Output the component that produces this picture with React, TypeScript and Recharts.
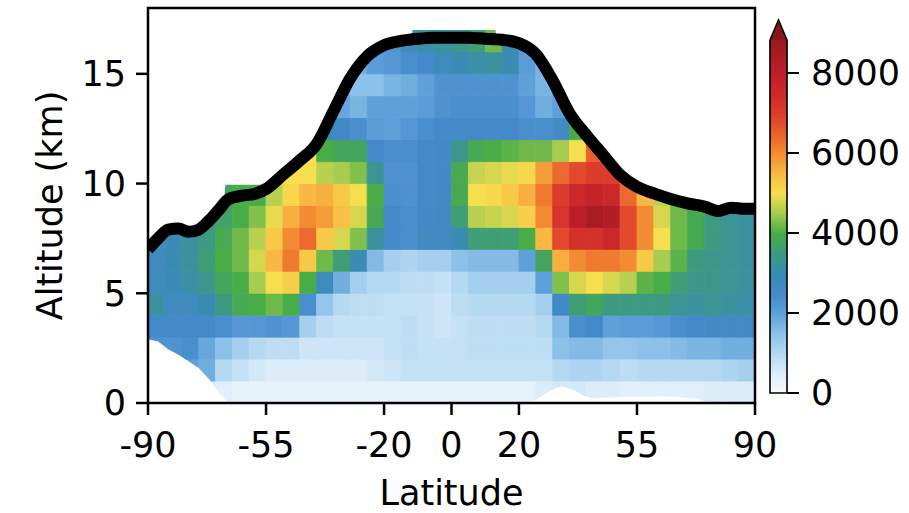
import React from 'react';
import { ComposedChart, XAxis, YAxis, ReferenceArea, Area, Line } from 'recharts';

const FONT = '"DejaVu Sans", Verdana, sans-serif';

// latitude bins (left edges, 5 degrees wide) and altitude bins (lower edges, 1 km)
const LAT_STEP = 5;
const ALT_STEP = 1;
const latEdges = [-90, -85, -80, -75, -70, -65, -60, -55, -50, -45, -40, -35, -30, -25, -20, -15, -10, -5,
  0, 5, 10, 15, 20, 25, 30, 35, 40, 45, 50, 55, 60, 65, 70, 75, 80, 85];
const altEdges = [0, 1, 2, 3, 4, 5, 6, 7, 8, 9, 10, 11, 12, 13, 14, 15, 16];

// field values, one array per altitude band (index = latitude bin)
const alt0 = [500, 500, 500, 600, 400, 300, 300, 300, 300, 300, 300, 300, 300, 300, 300, 300, 300, 300, 300, 300, 300, 300, 300, 500, 600, 600, 500, 500, 400, 400, 400, 400, 400, 500, 500, 500];
const alt1 = [1000, 1500, 2000, 1800, 1000, 800, 600, 500, 500, 500, 500, 500, 500, 600, 700, 800, 800, 800, 800, 800, 800, 800, 800, 800, 1000, 1100, 1100, 1000, 900, 1000, 1000, 1000, 1000, 1000, 1100, 1200];
const alt2 = [2300, 2300, 2400, 1900, 1500, 1200, 1000, 900, 900, 700, 700, 700, 700, 700, 800, 900, 800, 800, 800, 900, 900, 900, 900, 900, 1500, 1600, 1600, 1400, 1400, 1500, 1500, 1600, 1700, 1700, 1800, 1800];
const alt3 = [2500, 2500, 2500, 2500, 2400, 2200, 2200, 2300, 2200, 1200, 900, 800, 800, 800, 800, 900, 800, 700, 800, 900, 900, 900, 900, 1000, 1600, 2400, 2500, 2000, 2100, 2100, 2200, 2400, 2500, 2600, 2600, 2600];
const alt4 = [3200, 2700, 2800, 3000, 3500, 3900, 4000, 4200, 4000, 2400, 1400, 1000, 900, 900, 800, 800, 800, 700, 900, 1000, 1000, 1000, 1000, 1200, 2600, 3600, 3800, 3500, 3500, 3500, 3500, 3300, 3200, 3300, 3200, 3100];
const alt5 = [2800, 2900, 3100, 3400, 3800, 4000, 4500, 5000, 5200, 4000, 2800, 1800, 1200, 1000, 1000, 900, 900, 800, 1000, 1200, 1200, 1200, 1200, 2000, 4300, 4800, 5000, 4800, 4600, 4100, 4000, 3600, 3400, 3400, 3300, 3200];
const alt6 = [2700, 3000, 3200, 3600, 4000, 4200, 4800, 5500, 6200, 5300, 4200, 3600, 3000, 1600, 1200, 1100, 1200, 1200, 1500, 1600, 1600, 1600, 2000, 3800, 5600, 6000, 6200, 6200, 6000, 5300, 4500, 4100, 3500, 3400, 3300, 3200];
const alt7 = [2700, 2900, 3200, 3500, 3900, 4200, 4600, 5300, 6000, 6400, 5300, 4800, 4300, 3200, 2500, 2400, 2700, 2600, 3000, 3600, 3600, 3600, 4000, 5500, 6800, 7300, 7300, 7600, 6800, 6000, 5000, 4200, 3900, 3500, 3300, 3200];
const alt8 = [null, null, null, 3500, 3700, 4000, 4300, 4900, 5600, 6000, 5800, 5400, 4800, 3900, 2500, 2400, 2600, 2700, 3600, 4600, 4700, 4800, 5200, 6000, 7200, 8100, 8500, 8300, 6800, 6000, 4800, 4200, 3900, 3500, 3300, 3200];
const alt9 = [null, null, null, null, 3800, 4000, 4000, 4600, 5100, 5500, 5600, 5300, 5000, 4000, 2400, 2300, 2500, 2600, 3900, 5000, 5100, 5300, 5600, 6200, 7000, 7600, 7800, 7600, 6400, 5500, 4600, 4100, 3800, null, null, null];
const alt10 = [null, null, null, null, null, null, null, 4500, 5000, 5000, 4600, 4500, 4300, 3300, 2300, 2300, 2500, 2600, 3900, 4700, 4800, 4900, 5100, 5800, 6400, 6800, 7000, 7000, 6300, null, null, null, null, null, null, null];
const alt11 = [null, null, null, null, null, null, null, null, 5000, 5000, 4000, 3800, 3800, 2500, 2400, 2400, 2500, 2600, 3400, 3900, 4000, 4100, 4200, 4200, 4500, 5000, 6500, 6500, null, null, null, null, null, null, null, null];
const alt12 = [null, null, null, null, null, null, null, null, null, null, 3000, 2600, 2400, 2100, 2000, 2200, 2400, 2500, 2500, 2500, 2500, 2500, 2400, 2400, 2600, 4000, 6000, null, null, null, null, null, null, null, null, null];
const alt13 = [null, null, null, null, null, null, null, null, null, null, 2800, 1900, 1700, 2000, 2000, 2000, 2100, 2300, 2400, 2400, 2400, 2400, 2200, 1800, 2000, 3500, null, null, null, null, null, null, null, null, null, null];
const alt14 = [null, null, null, null, null, null, null, null, null, null, null, 1800, 1500, 1500, 1700, 1800, 2000, 2300, 2300, 2300, 2300, 2300, 2000, 1700, 2000, null, null, null, null, null, null, null, null, null, null, null];
const alt15 = [null, null, null, null, null, null, null, null, null, null, null, null, 1800, 2100, 2200, 2400, 2500, 2800, 3000, 3100, 3200, 3000, 2100, 1700, null, null, null, null, null, null, null, null, null, null, null, null];
const alt16 = [null, null, null, null, null, null, null, null, null, null, null, null, null, 2000, 2300, 2800, 3100, 3200, 3400, 3600, 4200, 3000, 2400, null, null, null, null, null, null, null, null, null, null, null, null, null];
const fieldRows = [alt0, alt1, alt2, alt3, alt4, alt5, alt6, alt7, alt8, alt9, alt10, alt11, alt12, alt13, alt14, alt15, alt16];

// tropopause height (black line)
const tropoLat = [-90, -87, -84, -81, -78, -75, -72, -69, -66, -62, -58, -55, -50, -45, -40, -35, -30, -25, -20, -15, -10, -5, 0, 5, 10, 15, 20, 25, 30, 35, 40, 45, 50, 55, 60, 65, 70, 75, 79, 83, 87, 90];
const tropoAlt = [7.0, 7.5, 7.9, 7.95, 7.8, 7.9, 8.3, 8.8, 9.3, 9.45, 9.55, 9.75, 10.4, 11.05, 11.8, 13.3, 14.8, 15.8, 16.3, 16.5, 16.6, 16.65, 16.65, 16.65, 16.6, 16.55, 16.4, 15.9, 14.7, 13.2, 12.2, 11.3, 10.4, 9.85, 9.55, 9.3, 9.1, 8.95, 8.75, 8.9, 8.85, 8.85];

// upper edge of valid data (white above)
const topLat = [-90, -87, -84, -81, -78, -75, -72, -69, -67.5, -67, -56, -55, -50, -45, -40, -35, -30, -25, -20, -15, -12, -11.5, 13, 13.5, 15, 20, 25, 30, 35, 40, 45, 50, 55, 60, 65, 70, 75, 79, 83, 87, 90];
const topAlt = [7.0, 7.5, 7.9, 7.95, 7.8, 7.9, 8.3, 8.8, 9.1, 9.95, 9.95, 9.75, 10.4, 11.05, 11.8, 13.3, 14.8, 15.8, 16.3, 16.5, 16.55, 17, 17, 16.55, 16.55, 16.4, 15.9, 14.7, 13.2, 12.2, 11.3, 10.4, 9.85, 9.55, 9.3, 9.1, 8.95, 8.75, 8.9, 8.85, 8.85];

// lower edge of valid data (surface, white below)
const surfLat = [-90, -87, -84, -81, -78, -75, -72, -70, -68, -66, 22, 25, 28, 31, 33, 36, 39, 42, 45, 55, 65, 72, 76, 80, 90];
const surfAlt = [2.9, 2.8, 2.45, 2.2, 1.9, 1.6, 1.1, 0.7, 0.3, 0, 0, 0.15, 0.45, 0.7, 0.75, 0.6, 0.35, 0.2, 0.25, 0.3, 0.3, 0.2, 0.05, 0, 0];

const xTicks = [-90, -55, -20, 0, 20, 55, 90];
const yTicks = [0, 5, 10, 15];
const cbTicks = [0, 2000, 4000, 6000, 8000];
const CB_MAX = 8825;
const CB_TIP = 9325;

const cmapStops: [number, string][] = [
  [0, '#f7fbff'], [500, '#dcedf9'], [1000, '#b6d9f2'], [1500, '#8cc1e9'], [2000, '#5ea1da'],
  [2500, '#4489ca'], [3000, '#3a8cb2'], [3500, '#3d9a80'], [4000, '#49ad47'], [4500, '#a8cc50'],
  [5000, '#f6df4e'], [5500, '#f9b843'], [6000, '#f38b32'], [6500, '#e9602d'], [7000, '#dc3c2b'],
  [7500, '#cd2a2b'], [8000, '#c01f2a'], [8825, '#9a1a20'],
];

function hexRgb(h: string) {
  return [parseInt(h.slice(1, 3), 16), parseInt(h.slice(3, 5), 16), parseInt(h.slice(5, 7), 16)];
}
function colorFor(v: number) {
  const s = cmapStops;
  if (v <= s[0][0]) return s[0][1];
  if (v >= s[s.length - 1][0]) return s[s.length - 1][1];
  for (let i = 0; i < s.length - 1; i++) {
    if (v >= s[i][0] && v <= s[i + 1][0]) {
      const t = (v - s[i][0]) / (s[i + 1][0] - s[i][0]);
      const a = hexRgb(s[i][1]);
      const b = hexRgb(s[i + 1][1]);
      const c = a.map((x, k) => Math.round(x + (b[k] - x) * t));
      return `rgb(${c[0]},${c[1]},${c[2]})`;
    }
  }
  return s[0][1];
}

const tropoData = tropoLat.map((lat, i) => ({ lat, alt: tropoAlt[i] }));
const topData = topLat.map((lat, i) => ({ lat, band: [topAlt[i], 18] }));
const surfData = surfLat.map((lat, i) => ({ lat, surf: surfAlt[i] }));

const YLabel = (props: any) => {
  const vb = props.viewBox || { x: 0, y: 8, width: 148, height: 395 };
  const x = vb.x + 62;
  const y = vb.y + vb.height / 2;
  return (
    <text x={x} y={y} transform={`rotate(-90 ${x} ${y})`} textAnchor="middle" fontSize={35} fontFamily={FONT} fill="#000">
      Altitude (km)
    </text>
  );
};
const XLabel = (props: any) => {
  const vb = props.viewBox || { x: 148, y: 403, width: 607, height: 110 };
  return (
    <text x={vb.x + vb.width / 2} y={vb.y + 102} textAnchor="middle" fontSize={35} fontFamily={FONT} fill="#000">
      Latitude
    </text>
  );
};

const TriShape = (p: any) => {
  const { x, y, width, height } = p;
  const pts = `${x},${y + height} ${x + width / 2},${y} ${x + width},${y + height}`;
  return (
    <g>
      <polygon points={pts} fill="#8a1519" stroke="none" />
      <polyline points={pts} fill="none" stroke="#000" strokeWidth={1.6} strokeLinejoin="miter" />
    </g>
  );
};
const BarOutline = (p: any) => {
  const { x, y, width, height } = p;
  return (
    <path d={`M${x},${y} L${x},${y + height} L${x + width},${y + height} L${x + width},${y}`} fill="none" stroke="#000" strokeWidth={1.6} />
  );
};

export default function App() {
  const cells: React.ReactNode[] = [];
  fieldRows.forEach((row, r) => {
    row.forEach((v, c) => {
      if (v == null) return;
      const col = colorFor(v);
      cells.push(
        <ReferenceArea
          key={`cell-${r}-${c}`}
          x1={latEdges[c]}
          x2={latEdges[c] + LAT_STEP}
          y1={altEdges[r]}
          y2={altEdges[r] + ALT_STEP}
          fill={col}
          fillOpacity={1}
          stroke={col}
          strokeWidth={0.8}
          ifOverflow="hidden"
        />
      );
    });
  });

  const slices: React.ReactNode[] = [];
  for (let v = 0; v < CB_MAX; v += 50) {
    const col = colorFor(v + 25);
    slices.push(
      <ReferenceArea key={`cb-${v}`} x1={0} x2={1} y1={v} y2={Math.min(v + 50, CB_MAX)} fill={col} fillOpacity={1} stroke={col} strokeWidth={0.6} />
    );
  }

  const tickStyle = { fill: '#000', fontSize: 35, fontFamily: FONT };

  return (
    <div style={{ position: 'fixed', left: 0, top: 0, width: 909, height: 513, background: '#fff', overflow: 'hidden' }}>
      <div style={{ position: 'absolute', left: 0, top: 0 }}>
        <ComposedChart width={909} height={513} data={tropoData} margin={{ top: 8, right: 154, bottom: 0, left: 0 }}>
          <XAxis
            type="number"
            dataKey="lat"
            domain={[-90, 90]}
            ticks={xTicks}
            interval={0}
            allowDataOverflow
            height={110}
            tickSize={12}
            tickMargin={17}
            axisLine={false}
            tickLine={{ stroke: '#000', strokeWidth: 2.5 }}
            tick={tickStyle}
            tickFormatter={(v: number) => String(v)}
            label={XLabel}
          />
          <YAxis
            type="number"
            domain={[0, 18]}
            ticks={yTicks}
            interval={0}
            allowDataOverflow
            width={148}
            tickSize={12}
            tickMargin={10}
            axisLine={false}
            tickLine={{ stroke: '#000', strokeWidth: 2.5 }}
            tick={tickStyle}
            label={YLabel}
          />
          {cells}
          <Area data={surfData} dataKey="surf" type="linear" stroke="none" fill="#ffffff" fillOpacity={1} isAnimationActive={false} dot={false} activeDot={false} />
          <Area data={topData} dataKey="band" type="monotone" stroke="none" fill="#ffffff" fillOpacity={1} isAnimationActive={false} dot={false} activeDot={false} />
          <Line dataKey="alt" type="monotone" stroke="#000" strokeWidth={12} dot={false} activeDot={false} isAnimationActive={false} strokeLinejoin="round" />
          <ReferenceArea x1={-90} x2={90} y1={0} y2={18} fill="none" fillOpacity={0} stroke="#000" strokeWidth={2.5} />
        </ComposedChart>
      </div>
      <div style={{ position: 'absolute', left: 700, top: 0 }}>
        <ComposedChart width={209} height={513} data={[{ x: 0 }, { x: 1 }]} margin={{ top: 20, right: 0, bottom: 120, left: 70 }}>
          <XAxis type="number" dataKey="x" domain={[0, 1]} hide />
          <YAxis
            type="number"
            orientation="right"
            domain={[0, CB_TIP]}
            ticks={cbTicks}
            interval={0}
            allowDataOverflow
            width={122}
            tickSize={12}
            tickMargin={12}
            axisLine={false}
            tickLine={{ stroke: '#000', strokeWidth: 2 }}
            tick={tickStyle}
          />
          {slices}
          <ReferenceArea x1={0} x2={1} y1={CB_MAX} y2={CB_TIP} shape={TriShape} />
          <ReferenceArea x1={0} x2={1} y1={0} y2={CB_MAX} shape={BarOutline} />
        </ComposedChart>
      </div>
    </div>
  );
}
